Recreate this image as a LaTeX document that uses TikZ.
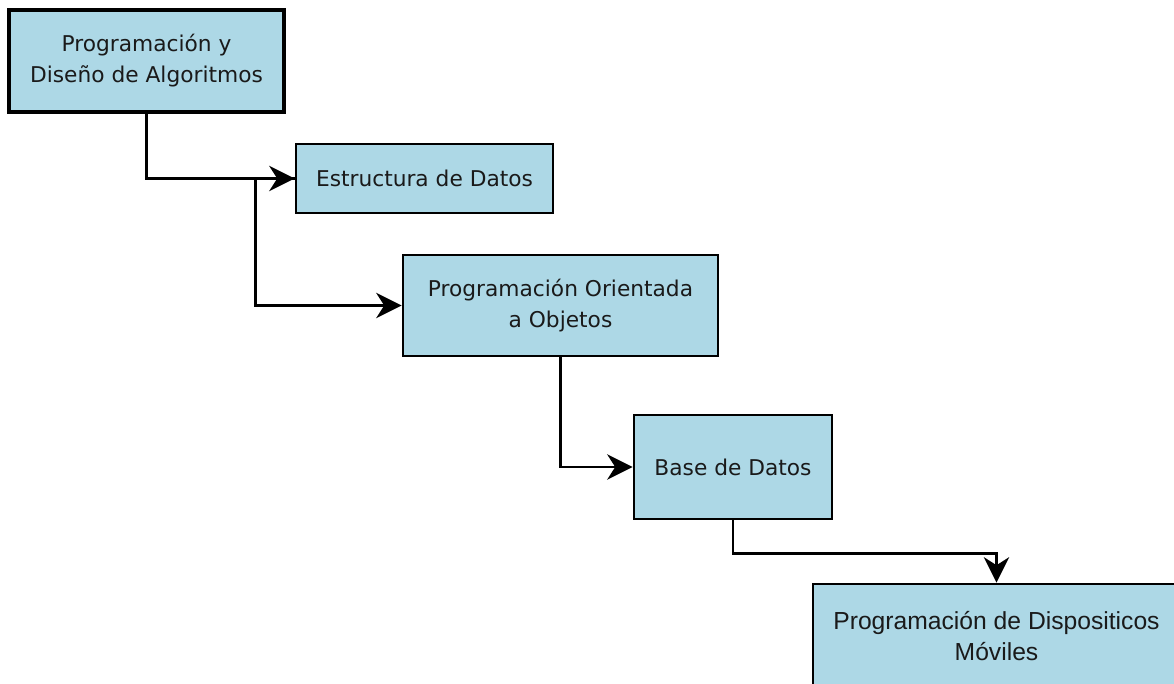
\documentclass[tikz,border=0pt]{standalone}
\usepackage{fontspec}
\setmainfont{DejaVu Sans}
\newfontfamily\arialfont{Liberation Sans}
\usetikzlibrary{arrows.meta}
\definecolor{boxfill}{RGB}{173,216,230}
\definecolor{textgray}{RGB}{26,26,26}
\tikzset{
  x=0.75pt, y=-0.75pt,
  course/.style={draw=black, fill=boxfill, line width=2.2pt, align=center,
    text=textgray, inner sep=0pt,
    font=\fontsize{16.3pt}{23.25pt}\selectfont},
  conn/.style={draw=black, line width=2.2pt,
    -{Stealth[length=19pt, width=19pt, inset=6pt]}},
}
\begin{document}
\begin{tikzpicture}
  \useasboundingbox (0,0) rectangle (1174,683);
  \clip (0,0) rectangle (1174,683);

  % course boxes, placed by their centres
  \node[course, line width=2.6pt, minimum width=275*0.75pt, minimum height=102*0.75pt]
    (b1) at (146.5,61) {Programación y\\Diseño de Algoritmos};
  \node[course, minimum width=257*0.75pt, minimum height=69*0.75pt]
    (b2) at (424.5,178.5) {Estructura de Datos};
  \node[course, minimum width=315*0.75pt, minimum height=101*0.75pt]
    (b3) at (560.5,305.5) {Programación Orientada\\a Objetos};
  \node[course, minimum width=198*0.75pt, minimum height=104*0.75pt]
    (b4) at (733,467) {Base de Datos};
  \node[course, minimum width=367*0.75pt, minimum height=104*0.75pt,
        font=\arialfont\fontsize{18.5pt}{23.25pt}\selectfont]
    (b5) at (996.5,636) {Programación de Dispositicos\\Móviles};

  % orthogonal connectors
  \draw[conn] (b2.west) -- ++(-39,0) coordinate (c2) |- (b3.west);
  \draw[conn] (b1.south) |- (b2.west);
  \draw[conn] (b3.south) |- (b4.west);
  \draw[conn] (b4.south) -- ++(0,33) coordinate (c4) -| (b5.north);
\end{tikzpicture}
\end{document}
